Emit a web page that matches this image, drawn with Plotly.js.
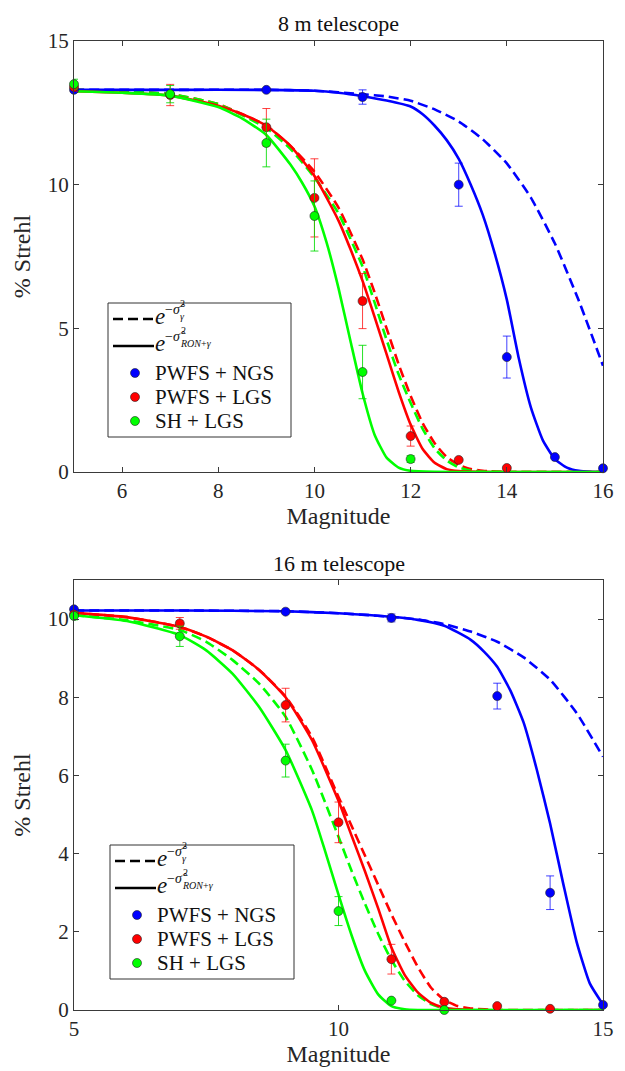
<!DOCTYPE html>
<html>
<head>
<meta charset="utf-8">
<script src="https://cdn.plot.ly/plotly-3.0.1.min.js"></script>
<style>html,body{margin:0;padding:0;background:#fff;}#chart{width:625px;height:1071px;}</style>
</head>
<body>
<div id="chart"></div>
<script>
// ---------- 8 m telescope: measured points ----------
const ngs8_x = [5, 9, 11, 13, 14, 15, 16];
const ngs8_y = [13.3, 13.3, 13.05, 10.0, 4.0, 0.52, 0.13];
const ngs8_e = [null, null, 0.25, 0.75, 0.73, null, null];

const plgs8_x = [5, 7, 9, 10, 11, 12, 13, 14];
const plgs8_y = [13.4, 13.12, 12.0, 9.54, 5.95, 1.25, 0.42, 0.14];
const plgs8_e = [0.15, 0.37, 0.65, 1.36, 0.96, 0.35, null, null];

const sh8_x = [5, 7, 9, 10, 11, 12];
const sh8_y = [13.5, 13.15, 11.45, 8.91, 3.48, 0.45];
const sh8_e = [0.17, 0.3, 0.83, 1.22, 0.93, 0.12];

// ---------- 8 m telescope: model curves ----------
const ngsSolid8_x = [5, 7, 9, 10, 10.5, 11, 11.5, 12, 12.25, 12.5, 12.75, 13, 13.25, 13.5, 13.75, 14, 14.25, 14.5, 14.75, 15, 15.25, 15.5, 15.75, 16];
const ngsSolid8_y = [13.3, 13.3, 13.3, 13.27, 13.2, 13.08, 12.93, 12.72, 12.45, 12.05, 11.55, 10.9, 10.0, 8.95, 7.6, 6.0, 3.95, 2.25, 1.1, 0.45, 0.15, 0.04, 0.01, 0.0];
const ngsDash8_x = [5, 7, 9, 10, 11, 11.5, 12, 12.5, 13, 13.5, 14, 14.5, 15, 15.5, 16];
const ngsDash8_y = [13.3, 13.3, 13.3, 13.27, 13.15, 13.07, 12.92, 12.62, 12.2, 11.58, 10.74, 9.55, 7.95, 5.95, 3.7];

const plgsSolid8_x = [5, 6, 7, 8, 8.5, 9, 9.5, 10, 10.5, 10.75, 11, 11.25, 11.5, 11.75, 12, 12.25, 12.5, 12.75, 13, 13.5, 14, 16];
const plgsSolid8_y = [13.25, 13.2, 13.1, 12.75, 12.45, 12.05, 11.35, 10.3, 8.75, 7.75, 6.65, 5.4, 4.1, 2.8, 1.65, 0.8, 0.32, 0.1, 0.03, 0.005, 0, 0];
const lgsDash8_x = [5, 6, 7, 8, 9, 9.5, 10, 10.5, 11, 11.25, 11.5, 11.75, 12, 12.25, 12.5, 12.75, 13, 13.25, 13.5, 14, 16];
const plgsDash8_y = [13.3, 13.25, 13.15, 12.8, 12.05, 11.35, 10.45, 9.2, 7.4, 6.25, 5.0, 3.75, 2.65, 1.7, 1.0, 0.52, 0.25, 0.1, 0.04, 0, 0];
const shDash8_y = [13.3, 13.25, 13.15, 12.8, 11.97, 11.25, 10.25, 9.0, 7.15, 5.9, 4.6, 3.4, 2.4, 1.5, 0.82, 0.4, 0.16, 0.05, 0.02, 0, 0];
const shSolid8_x = [5, 6, 7, 8, 8.5, 9, 9.5, 9.75, 10, 10.25, 10.5, 10.75, 11, 11.25, 11.5, 11.75, 12, 12.5, 13, 16];
const shSolid8_y = [13.25, 13.2, 13.1, 12.7, 12.3, 11.73, 10.7, 10.05, 9.25, 8.0, 6.4, 4.55, 2.74, 1.3, 0.5, 0.15, 0.04, 0.005, 0, 0];

// ---------- 16 m telescope: measured points ----------
const ngs16_x = [5, 9, 11, 13, 14, 15];
const ngs16_y = [10.25, 10.19, 10.03, 8.03, 3.0, 0.13];
const ngs16_e = [null, null, 0.1, 0.33, 0.43, null];

const plgs16_x = [5, 7, 9, 10, 11, 12, 13, 14];
const plgs16_y = [10.12, 9.89, 7.8, 4.8, 1.3, 0.21, 0.1, 0.03];
const plgs16_e = [null, 0.15, 0.43, 0.52, 0.38, null, null, null];

const sh16_x = [5, 7, 9, 10, 11, 12];
const sh16_y = [10.08, 9.56, 6.38, 2.53, 0.24, 0.0];
const sh16_e = [0.1, 0.26, 0.42, 0.37, null, null];

// ---------- 16 m telescope: model curves ----------
const ngsSolid16_x = [5, 7, 9, 10, 11, 11.5, 12, 12.5, 12.75, 13, 13.25, 13.5, 13.75, 14, 14.25, 14.5, 14.75, 15];
const ngsSolid16_y = [10.22, 10.22, 10.2, 10.15, 10.06, 9.98, 9.83, 9.47, 9.17, 8.78, 8.17, 7.35, 6.14, 4.77, 3.22, 1.75, 0.68, 0.14];
const ngsDash16_x = [5, 7, 9, 10, 11, 11.5, 12, 12.5, 13, 13.5, 14, 14.5, 15];
const ngsDash16_y = [10.22, 10.22, 10.2, 10.15, 10.06, 9.99, 9.87, 9.68, 9.42, 9.02, 8.45, 7.6, 6.48];

const plgsSolid16_x = [5, 6, 7, 7.5, 8, 8.5, 9, 9.5, 10, 10.25, 10.5, 10.75, 11, 11.25, 11.5, 11.75, 12, 12.5, 15];
const plgsSolid16_y = [10.16, 10.05, 9.8, 9.55, 9.2, 8.7, 8.0, 6.9, 5.35, 4.45, 3.55, 2.6, 1.6, 0.9, 0.45, 0.18, 0.06, 0, 0];
const plgsDash16_x = [5, 6, 7, 7.5, 8, 8.5, 9, 9.5, 10, 10.25, 10.5, 10.75, 11, 11.25, 11.5, 11.75, 12, 12.25, 12.5, 13, 15];
const plgsDash16_y = [10.16, 10.05, 9.8, 9.55, 9.2, 8.7, 8.02, 6.98, 5.45, 4.7, 3.95, 3.2, 2.45, 1.75, 1.1, 0.57, 0.26, 0.1, 0.04, 0, 0];
const shDash16_x = [5, 6, 7, 7.5, 8, 8.5, 9, 9.5, 10, 10.25, 10.5, 10.75, 11, 11.25, 11.5, 11.75, 12, 12.5, 15];
const shDash16_y = [10.1, 9.97, 9.72, 9.42, 8.95, 8.35, 7.5, 6.14, 4.43, 3.55, 2.72, 1.95, 1.28, 0.75, 0.38, 0.15, 0.04, 0, 0];
const shSolid16_x = [5, 6, 7, 7.5, 8, 8.5, 9, 9.5, 9.75, 10, 10.25, 10.5, 10.75, 11, 11.25, 11.5, 15];
const shSolid16_y = [10.1, 9.95, 9.59, 9.2, 8.6, 7.75, 6.65, 5.1, 4.05, 2.95, 1.9, 1.0, 0.4, 0.1, 0.02, 0, 0];

// ---------- labels ----------
const seriesNames = ['PWFS + NGS', 'PWFS + LGS', 'SH + LGS'];
const mathBase = '<i>e</i>';
const mathExp = '−<i>σ̂</i>';
const mathScriptsDashed = '2<br><i>γ</i>';
const mathScriptsSolid = '2<br><i>RON</i>+<i>γ</i>';
const titles = ['8 m telescope', '16 m telescope'];
const xLabel = 'Magnitude';
const yLabel = '% Strehl';
const xTicks8 = [6, 8, 10, 12, 14, 16];
const yTicks8 = [0, 5, 10, 15];
const xTicks16 = [5, 10, 15];
const yTicks16 = [0, 2, 4, 6, 8, 10];

const BLUE = 'rgb(0,0,255)', RED = 'rgb(255,0,0)', GREEN = 'rgb(0,255,0)';
const ERR = {};
ERR[BLUE] = 'rgba(0,0,255,0.75)'; ERR[RED] = 'rgba(255,0,0,0.75)'; ERR[GREEN] = 'rgba(0,220,0,0.85)';
const FONT = 'Liberation Serif';
const LW = 2.6;
const DASH = '10px,5px';

function curve(x, y, color, dash, xa, ya) {
  return {x: x, y: y, type: 'scatter', mode: 'lines', xaxis: xa, yaxis: ya,
    line: {color: color, width: LW, dash: dash, shape: 'spline', smoothing: 0.5},
    showlegend: false, hoverinfo: 'skip', cliponaxis: true};
}
function pts(x, y, e, color, name, xa, ya) {
  return {x: x, y: y, type: 'scatter', mode: 'markers', name: name, xaxis: xa, yaxis: ya,
    showlegend: false, cliponaxis: false,
    marker: {size: 9, color: color, line: {color: '#222', width: 0.6}},
    error_y: {type: 'data', array: e, visible: true, color: ERR[color], thickness: 1, width: 4}};
}

const data = [
  curve(ngsDash8_x, ngsDash8_y, BLUE, DASH, 'x', 'y'),
  curve(lgsDash8_x, plgsDash8_y, RED, DASH, 'x', 'y'),
  curve(lgsDash8_x, shDash8_y, GREEN, DASH, 'x', 'y'),
  curve(ngsSolid8_x, ngsSolid8_y, BLUE, 'solid', 'x', 'y'),
  curve(plgsSolid8_x, plgsSolid8_y, RED, 'solid', 'x', 'y'),
  curve(shSolid8_x, shSolid8_y, GREEN, 'solid', 'x', 'y'),
  pts(ngs8_x, ngs8_y, ngs8_e, BLUE, seriesNames[0], 'x', 'y'),
  pts(plgs8_x, plgs8_y, plgs8_e, RED, seriesNames[1], 'x', 'y'),
  pts(sh8_x, sh8_y, sh8_e, GREEN, seriesNames[2], 'x', 'y'),

  curve(ngsDash16_x, ngsDash16_y, BLUE, DASH, 'x2', 'y2'),
  curve(plgsDash16_x, plgsDash16_y, RED, DASH, 'x2', 'y2'),
  curve(shDash16_x, shDash16_y, GREEN, DASH, 'x2', 'y2'),
  curve(ngsSolid16_x, ngsSolid16_y, BLUE, 'solid', 'x2', 'y2'),
  curve(plgsSolid16_x, plgsSolid16_y, RED, 'solid', 'x2', 'y2'),
  curve(shSolid16_x, shSolid16_y, GREEN, 'solid', 'x2', 'y2'),
  pts(ngs16_x, ngs16_y, ngs16_e, BLUE, seriesNames[0], 'x2', 'y2'),
  pts(plgs16_x, plgs16_y, plgs16_e, RED, seriesNames[1], 'x2', 'y2'),
  pts(sh16_x, sh16_y, sh16_e, GREEN, seriesNames[2], 'x2', 'y2')
];

// ---------- layout geometry (pixels -> paper) ----------
const W = 625, H = 1071, ML = 74, MR = 22, MT = 41, MB = 61;
const PW = W - ML - MR, PH = H - MT - MB;
const px = p => (p - ML) / PW;
const py = p => (H - MB - p) / PH;

const shapes = [];
const annotations = [];
function txt(text, x, y, size, color) {
  annotations.push({text: text, xref: 'paper', yref: 'paper', x: px(x), y: py(y),
    xanchor: 'left', yanchor: 'middle', align: 'left', showarrow: false, borderpad: 0,
    font: {family: FONT, size: size, color: color || '#111'}});
}
function buildLegend(L, T, Wd, Hd) {
  shapes.push({type: 'rect', xref: 'paper', yref: 'paper', x0: px(L), x1: px(L + Wd), y0: py(T), y1: py(T + Hd),
    fillcolor: 'white', line: {color: '#333', width: 1}, layer: 'above'});
  const rows = [T + 16, T + 43, T + 70, T + 94, T + 118];
  [[DASH, rows[0]], ['solid', rows[1]]].forEach(([d, r]) => {
    shapes.push({type: 'line', xref: 'paper', yref: 'paper', x0: px(L + 5), x1: px(L + 46), y0: py(r), y1: py(r),
      line: {color: 'black', width: LW, dash: d}, layer: 'above'});
  });
  [BLUE, RED, GREEN].forEach((c, i) => {
    shapes.push({type: 'circle', xref: 'paper', yref: 'paper', xsizemode: 'pixel', ysizemode: 'pixel',
      xanchor: px(L + 27), yanchor: py(rows[i + 2]), x0: -4.5, x1: 4.5, y0: -4.5, y1: 4.5,
      fillcolor: c, line: {color: '#222', width: 0.6}, layer: 'above'});
    txt(seriesNames[i], L + 46, rows[i + 2], 21);
  });
  [[rows[0], mathScriptsDashed], [rows[1], mathScriptsSolid]].forEach(([r, scripts]) => {
    txt(mathBase, L + 46, r - 3, 23);
    txt(mathExp, L + 56, r - 10, 14);
    txt(scripts, L + 71, r - 9, 10);
  });
}
buildLegend(108, 303, 183, 134);
buildLegend(110, 845, 184, 134);

annotations.push(
  {text: titles[0], xref: 'paper', yref: 'paper', x: 0.5, y: py(24), xanchor: 'center', yanchor: 'middle',
    showarrow: false, font: {family: FONT, size: 22, color: '#111'}},
  {text: titles[1], xref: 'paper', yref: 'paper', x: 0.5, y: py(563), xanchor: 'center', yanchor: 'middle',
    showarrow: false, font: {family: FONT, size: 22, color: '#111'}}
);

const AX = {showgrid: false, zeroline: false, showline: true, mirror: 'ticks', linecolor: '#3a3a3a',
  linewidth: 1, ticks: 'inside', ticklen: 5, tickcolor: '#3a3a3a',
  tickfont: {family: FONT, size: 21, color: '#262626'}};
const TF = {family: FONT, size: 24, color: '#262626'};

const layout = {
  width: W, height: H,
  margin: {l: ML, r: MR, t: MT, b: MB},
  paper_bgcolor: 'white', plot_bgcolor: 'white',
  font: {family: FONT, color: '#262626'},
  showlegend: false,
  xaxis: Object.assign({}, AX, {anchor: 'y', domain: [0, 1], range: [5, 16], tickvals: xTicks8,
    title: {text: xLabel, font: TF, standoff: 4}}),
  yaxis: Object.assign({}, AX, {anchor: 'x', domain: [py(472), 1], range: [0, 15], tickvals: yTicks8,
    title: {text: yLabel, font: TF, standoff: 10}}),
  xaxis2: Object.assign({}, AX, {anchor: 'y2', domain: [0, 1], range: [5, 15], tickvals: xTicks16,
    title: {text: xLabel, font: TF, standoff: 4}}),
  yaxis2: Object.assign({}, AX, {anchor: 'x2', domain: [0, py(580)], range: [0, 11], tickvals: yTicks16,
    title: {text: yLabel, font: TF, standoff: 10}}),
  shapes: shapes,
  annotations: annotations
};

Plotly.newPlot('chart', data, layout, {displayModeBar: false, staticPlot: true});
</script>
</body>
</html>
